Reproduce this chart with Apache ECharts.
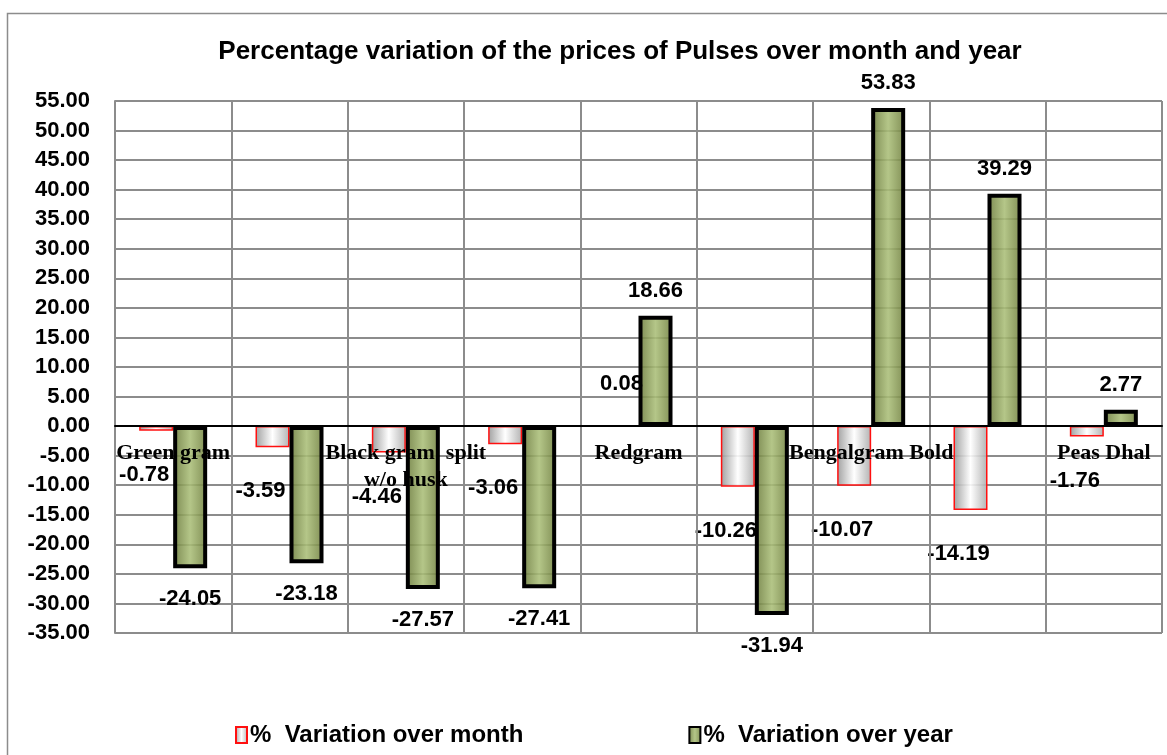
<!doctype html>
<html lang="en">
<head>
  <meta charset="utf-8">
  <title>Pulses price variation</title>
  <script src="https://cdn.jsdelivr.net/npm/echarts@6/dist/echarts.min.js"></script>
  <style>
    html, body { margin: 0; padding: 0; background: #fff; }
    #chartmain { width: 1167px; height: 755px; }
  </style>
</head>
<body>
<div id="chartmain"></div>
<script>
  // categories (only every other name is printed on the axis, like the original)
  var categories = ['Green gram', 'Green gram dal', 'Black gram  split\nw/o husk', 'Black gram dal',
                    'Redgram', 'Tur dal', 'Bengalgram Bold', 'Bengalgram dal', 'Peas Dhal'];
  var overMonth = [-0.78, -3.59, -4.46, -3.06, 0.08, -10.26, -10.07, -14.19, -1.76];
  var overYear  = [-24.05, -23.18, -27.57, -27.41, 18.66, -31.94, 53.83, 39.29, 2.77];
  var yTicks = { min: -35, max: 55, step: 5 };

  var sansBold = { fontFamily: 'Liberation Sans', fontWeight: 'bold', color: '#000' };

  var monthFill = new echarts.graphic.LinearGradient(0, 0, 1, 0, [
    { offset: 0, color: 'rgba(150,150,150,0.9)' },
    { offset: 0.5, color: 'rgba(255,255,255,0.9)' },
    { offset: 1, color: 'rgba(170,170,170,0.9)' }
  ]);
  var yearFill = new echarts.graphic.LinearGradient(0, 0, 1, 0, [
    { offset: 0, color: 'rgba(104,120,56,0.88)' },
    { offset: 0.5, color: 'rgba(170,190,120,0.88)' },
    { offset: 1, color: 'rgba(110,126,60,0.88)' }
  ]);

  function labelled(values, negPos, posPos) {
    return values.map(function (v) {
      return { value: v, label: v < 0 ? negPos : posPos };
    });
  }

  var myChart = echarts.init(document.getElementById('chartmain'));
  var option = {
    backgroundColor: '#fff',
    animation: false,
    title: {
      text: 'Percentage variation of the prices of Pulses over month and year',
      left: 620, top: 39, padding: 0, textAlign: 'center',
      textStyle: { fontFamily: 'Liberation Sans', fontWeight: 'bold', fontSize: 26, color: '#000' }
    },
    legend: {
      left: 230, top: 718,
      itemWidth: 11, itemHeight: 16, itemGap: 165,
      icon: 'rect',
      textStyle: { fontFamily: 'Liberation Sans', fontWeight: 'bold', fontSize: 24, color: '#000', padding: [0, 0, 0, -2] },
      data: ['%  Variation over month', '%  Variation over year']
    },
    graphic: [{
      type: 'rect', left: 5, top: 11, silent: true,
      shape: { width: 1200, height: 800 },
      style: { fill: 'none', stroke: '#8c8c8c', lineWidth: 1.5 }
    }],
    grid: { left: 115, right: 5, top: 101, bottom: 122 },
    xAxis: {
      type: 'category',
      data: categories,
      z: 5,
      axisLine: { onZero: true, lineStyle: { color: '#000', width: 2 } },
      axisTick: { show: false },
      axisLabel: {
        interval: 1, margin: -193,
        fontFamily: 'Liberation Serif', fontWeight: 'bold', fontSize: 22, lineHeight: 27, color: '#000'
      },
      splitLine: { show: true, interval: 0, lineStyle: { color: '#8c8c8c', width: 2 } }
    },
    yAxis: {
      type: 'value',
      min: yTicks.min, max: yTicks.max, interval: yTicks.step,
      axisLine: { show: true, lineStyle: { color: '#8c8c8c', width: 2 } },
      axisTick: { show: false },
      axisLabel: Object.assign({ fontSize: 22, margin: 25, formatter: function (v) { return v.toFixed(2); } }, sansBold),
      splitLine: { lineStyle: { color: '#8c8c8c', width: 2 } }
    },
    series: [
      {
        name: '%  Variation over month',
        type: 'bar',
        barWidth: 34,
        barGap: '0%',
        itemStyle: { color: monthFill, borderColor: '#ff1010', borderWidth: 1.5 },
        label: Object.assign({ show: true, fontSize: 22, formatter: function (p) { return p.value.toFixed(2); } }, sansBold),
        data: labelled(overMonth,
          { position: 'bottom', distance: 33, offset: [-12, 0] },
          { position: 'top', distance: 30 })
      },
      {
        name: '%  Variation over year',
        type: 'bar',
        barWidth: 34,
        itemStyle: { color: yearFill, borderColor: '#000', borderWidth: 4 },
        label: Object.assign({ show: true, fontSize: 22, formatter: function (p) { return p.value.toFixed(2); } }, sansBold),
        data: labelled(overYear,
          { position: 'bottom', distance: 20 },
          { position: 'top', distance: 14 })
      }
    ]
  };
  myChart.setOption(option);
</script>
</body>
</html>
